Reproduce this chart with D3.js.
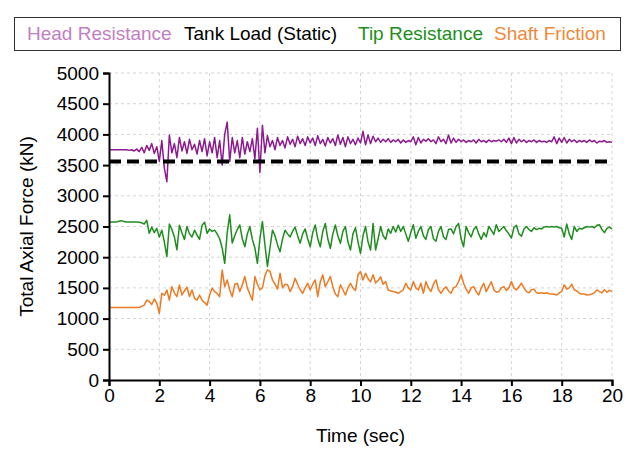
<!DOCTYPE html>
<html lang="en">
  <head>
    <meta charset="utf-8">
    <script src="https://d3js.org/d3.v7.min.js"></script>
    <style>
      body { margin: 0; background: #fff; }
      text { font-family: Arial, "Liberation Sans", sans-serif; }
    </style>
  </head>
  <body>
    <svg width="629" height="449"></svg>
    <script>
      // sample step of the records (sec)
      var dt = 0.1;

      // Tank load (static), kN
      var tankLoad = 3560;

      // Head resistance, kN, every 0.1 s from 0 to 20
      var headResistance = [
        3750, 3750, 3750, 3750, 3750, 3750, 3750, 3750, 3740, 3750,
        3730, 3760, 3720, 3790, 3700, 3820, 3740, 3850, 3690, 3800,
        3560, 3900, 3450, 3230, 3990, 3700, 3850, 3620, 3950, 3730,
        3880, 3690, 3920, 3750, 3840, 3680, 3900, 3720, 3930, 3650,
        3880, 3700, 3950, 3620, 3900, 3500, 4000, 4200, 3560, 3950,
        3700, 3900, 3620, 3950, 3680, 3880, 3720, 3930, 3600, 4100,
        3380, 4150, 3700, 3980, 3800, 3900, 3750, 3950, 3820, 3900,
        3780, 3960, 3840, 3920, 3800, 3970, 3850, 3930, 3820, 3960,
        3860, 3940, 3820, 3980, 3850, 3920, 3810, 3950, 3860, 3930,
        3820, 3990, 3840, 3950, 3800, 3960, 3850, 3920, 3830, 3940,
        3860, 4050, 3830, 3990, 3850, 3970, 3880, 3940, 3870, 3920,
        3880, 3930, 3870, 3910, 3880, 3920, 3860, 3910, 3870, 3900,
        3880, 3960, 3830, 3950, 3860, 3920, 3890, 3930, 3880, 3910,
        3850, 3960, 3880, 3920, 3850, 3990, 3860, 3940, 3870, 3920,
        3880, 3910, 3870, 3900, 3880, 3910, 3860, 3920, 3880, 3900,
        3870, 3910, 3880, 3900, 3890, 3910, 3880, 3920, 3870, 3940,
        3850, 3950, 3860, 3920, 3880, 3910, 3870, 3900, 3880, 3910,
        3870, 3900, 3880, 3890, 3870, 3900, 3880, 3960, 3850, 3940,
        3870, 3950, 3860, 3920, 3880, 3910, 3870, 3900, 3880, 3900,
        3870, 3910, 3880, 3900, 3860, 3890, 3880, 3900, 3870, 3880,
        3870
      ];

      // Tip resistance, kN
      var tipResistance = [
        2575, 2575, 2575, 2575, 2585, 2595, 2580, 2575, 2575, 2575,
        2575, 2575, 2570, 2560, 2540, 2600, 2390, 2490, 2400, 2470,
        2330, 2440, 2250, 2010, 2540, 2450, 2330, 2120, 2520, 2400,
        2290, 2500, 2380, 2330, 2440, 2360, 2290, 2520, 2570, 2390,
        2460, 2420, 2440, 2380, 2300, 2150, 1900, 2400, 2690, 2230,
        2350, 2450, 2525, 2300, 2170, 2380, 2500, 2290, 2150, 1900,
        2300, 2580, 2200, 1850, 2150, 2440, 2350, 2200, 2090, 2300,
        2440, 2380, 2330, 2420, 2490, 2350, 2226, 2380, 2460, 2300,
        2170, 2400, 2525, 2300, 2170, 2420, 2550, 2300, 2145, 2380,
        2525, 2350, 2226, 2420, 2500, 2250, 2117, 2380, 2480, 2250,
        2063, 2350, 2500, 2250, 2117, 2550, 2117, 2300, 2500, 2350,
        2290, 2460, 2390, 2500, 2410, 2520, 2420, 2500, 2380, 2260,
        2400, 2530, 2310, 2420, 2500, 2350, 2290, 2450, 2500, 2300,
        2260, 2420, 2500, 2330, 2290, 2450, 2460, 2380, 2500, 2550,
        2300, 2170, 2500, 2400, 2330, 2450, 2500, 2380, 2290, 2400,
        2330, 2500, 2440, 2370, 2530, 2420, 2460, 2500, 2430, 2380,
        2310, 2480, 2520, 2380, 2340, 2460, 2500, 2450, 2420, 2480,
        2450, 2470, 2460, 2490, 2500, 2490, 2500, 2490, 2500, 2480,
        2470, 2330, 2540, 2380, 2290, 2500, 2420, 2470, 2460, 2480,
        2500, 2490, 2500, 2480, 2520, 2530, 2450, 2400, 2470, 2490,
        2460
      ];

      // Shaft friction, kN
      var shaftFriction = [
        1180, 1180, 1180, 1180, 1180, 1180, 1180, 1180, 1180, 1180,
        1180, 1180, 1180, 1200, 1220, 1300, 1280, 1230, 1320, 1250,
        1086, 1412, 1380, 1466, 1300, 1520, 1420, 1357, 1548, 1385,
        1450, 1510, 1360, 1466, 1330, 1300, 1385, 1300, 1260, 1220,
        1385, 1494, 1440, 1410, 1357, 1790, 1520, 1630, 1466, 1357,
        1560, 1576, 1440, 1550, 1685, 1500, 1400, 1300, 1685, 1560,
        1470, 1500, 1700, 1794, 1770, 1630, 1560, 1480, 1740, 1500,
        1560, 1550, 1440, 1520, 1658, 1560, 1470, 1412, 1500, 1576,
        1470, 1560, 1630, 1357, 1600, 1713, 1520, 1600, 1685, 1520,
        1400, 1357, 1550, 1470, 1385, 1500, 1576, 1500, 1460, 1713,
        1767, 1630, 1740, 1650, 1600, 1713, 1580, 1620, 1680, 1560,
        1603, 1466, 1450, 1440, 1430, 1412, 1440, 1470, 1576, 1500,
        1466, 1603, 1500, 1466, 1576, 1412, 1603, 1500, 1440, 1560,
        1630, 1470, 1412, 1480, 1520, 1450, 1412, 1500, 1520, 1600,
        1713, 1576, 1480, 1412, 1500, 1520, 1440, 1385, 1500, 1576,
        1440, 1520, 1600, 1470, 1430, 1440, 1500, 1520, 1460, 1500,
        1603, 1500, 1466, 1520, 1576, 1500, 1440, 1420, 1470, 1480,
        1420, 1412, 1420, 1410, 1420, 1405, 1400, 1395, 1385, 1420,
        1440, 1550, 1480, 1500, 1560, 1470, 1450, 1412, 1400, 1400,
        1385, 1390, 1400, 1420, 1466, 1440, 1420, 1470, 1430, 1460,
        1440
      ];

      var xTicks = [0, 2, 4, 6, 8, 10, 12, 14, 16, 18, 20];
      var yTicks = [0, 500, 1000, 1500, 2000, 2500, 3000, 3500, 4000, 4500, 5000];

      var legendNames = ["Head Resistance", "Tank Load (Static)", "Tip Resistance", "Shaft Friction"];
      var legendColors = ["#c27ec4", "#000000", "#1a8f1a", "#f0883a"];

      var svg = d3.select("svg");
      var margin = {left: 109, right: 17, top: 73, bottom: 69};
      var width = 629 - margin.left - margin.right,
          height = 449 - margin.top - margin.bottom;

      var x = d3.scaleLinear().domain([0, 20]).range([0, width]);
      var y = d3.scaleLinear().domain([0, 5000]).range([height, 0]);

      var g = svg.append("g")
        .attr("transform", "translate(" + margin.left + "," + margin.top + ")");

      // grid
      g.append("g").selectAll("line")
        .data(xTicks.slice(1))
        .enter().append("line")
          .attr("x1", function(d) { return x(d); })
          .attr("x2", function(d) { return x(d); })
          .attr("y1", 0).attr("y2", height)
          .style("stroke", "#d4d4d4")
          .style("stroke-dasharray", "3,3");
      g.append("g").selectAll("line")
        .data(yTicks.slice(1))
        .enter().append("line")
          .attr("y1", function(d) { return y(d); })
          .attr("y2", function(d) { return y(d); })
          .attr("x1", 0).attr("x2", width)
          .style("stroke", "#d4d4d4")
          .style("stroke-dasharray", "3,3");

      // series
      var line = d3.line()
        .x(function(d, i) { return x(i * dt); })
        .y(function(d) { return y(d); });

      var series = [
        {values: headResistance, color: "#8b1a8e"},
        {values: tipResistance, color: "#1f8c1f"},
        {values: shaftFriction, color: "#ec7a22"}
      ];
      g.append("g").selectAll("path")
        .data(series)
        .enter().append("path")
          .attr("d", function(d) { return line(d.values); })
          .style("fill", "none")
          .style("stroke", function(d) { return d.color; })
          .style("stroke-width", 1.5)
          .style("stroke-linejoin", "round");

      // tank load
      g.append("line")
        .attr("x1", x(0)).attr("x2", x(20))
        .attr("y1", y(tankLoad)).attr("y2", y(tankLoad))
        .style("stroke", "#000")
        .style("stroke-width", 4)
        .style("stroke-dasharray", "12,6");

      // axes
      var xAxis = g.append("g")
        .attr("transform", "translate(0," + height + ")")
        .call(d3.axisBottom(x).tickValues(xTicks).tickFormat(d3.format("d")).tickSize(6).tickPadding(3));
      var yAxis = g.append("g")
        .call(d3.axisLeft(y).tickValues(yTicks).tickFormat(d3.format("d")).tickSize(6).tickPadding(4));
      [xAxis, yAxis].forEach(function(a) {
        a.select(".domain").style("stroke", "#000").style("stroke-width", 2);
        a.selectAll(".tick line").style("stroke", "#000").style("stroke-width", 2);
        a.selectAll(".tick text")
          .style("font-family", "Arial, 'Liberation Sans', sans-serif")
          .style("font-size", "19px")
          .style("fill", "#000");
      });

      // axis titles
      svg.append("text")
        .attr("x", margin.left + width / 2)
        .attr("y", 442)
        .attr("text-anchor", "middle")
        .style("font-size", "19px")
        .text("Time (sec)");
      svg.append("text")
        .attr("transform", "translate(33," + (margin.top + height / 2) + ") rotate(-90)")
        .attr("text-anchor", "middle")
        .style("font-size", "19px")
        .text("Total Axial Force (kN)");

      // legend
      var legendX = [27, 184, 358, 494];
      svg.append("rect")
        .attr("x", 14.5).attr("y", 17.5)
        .attr("width", 606).attr("height", 33)
        .style("fill", "#fff")
        .style("stroke", "#333");
      svg.append("g").selectAll("text")
        .data(legendNames)
        .enter().append("text")
          .attr("x", function(d, i) { return legendX[i]; })
          .attr("y", 40)
          .style("font-size", "19px")
          .style("fill", function(d, i) { return legendColors[i]; })
          .text(function(d) { return d; });
    </script>
  </body>
</html>
